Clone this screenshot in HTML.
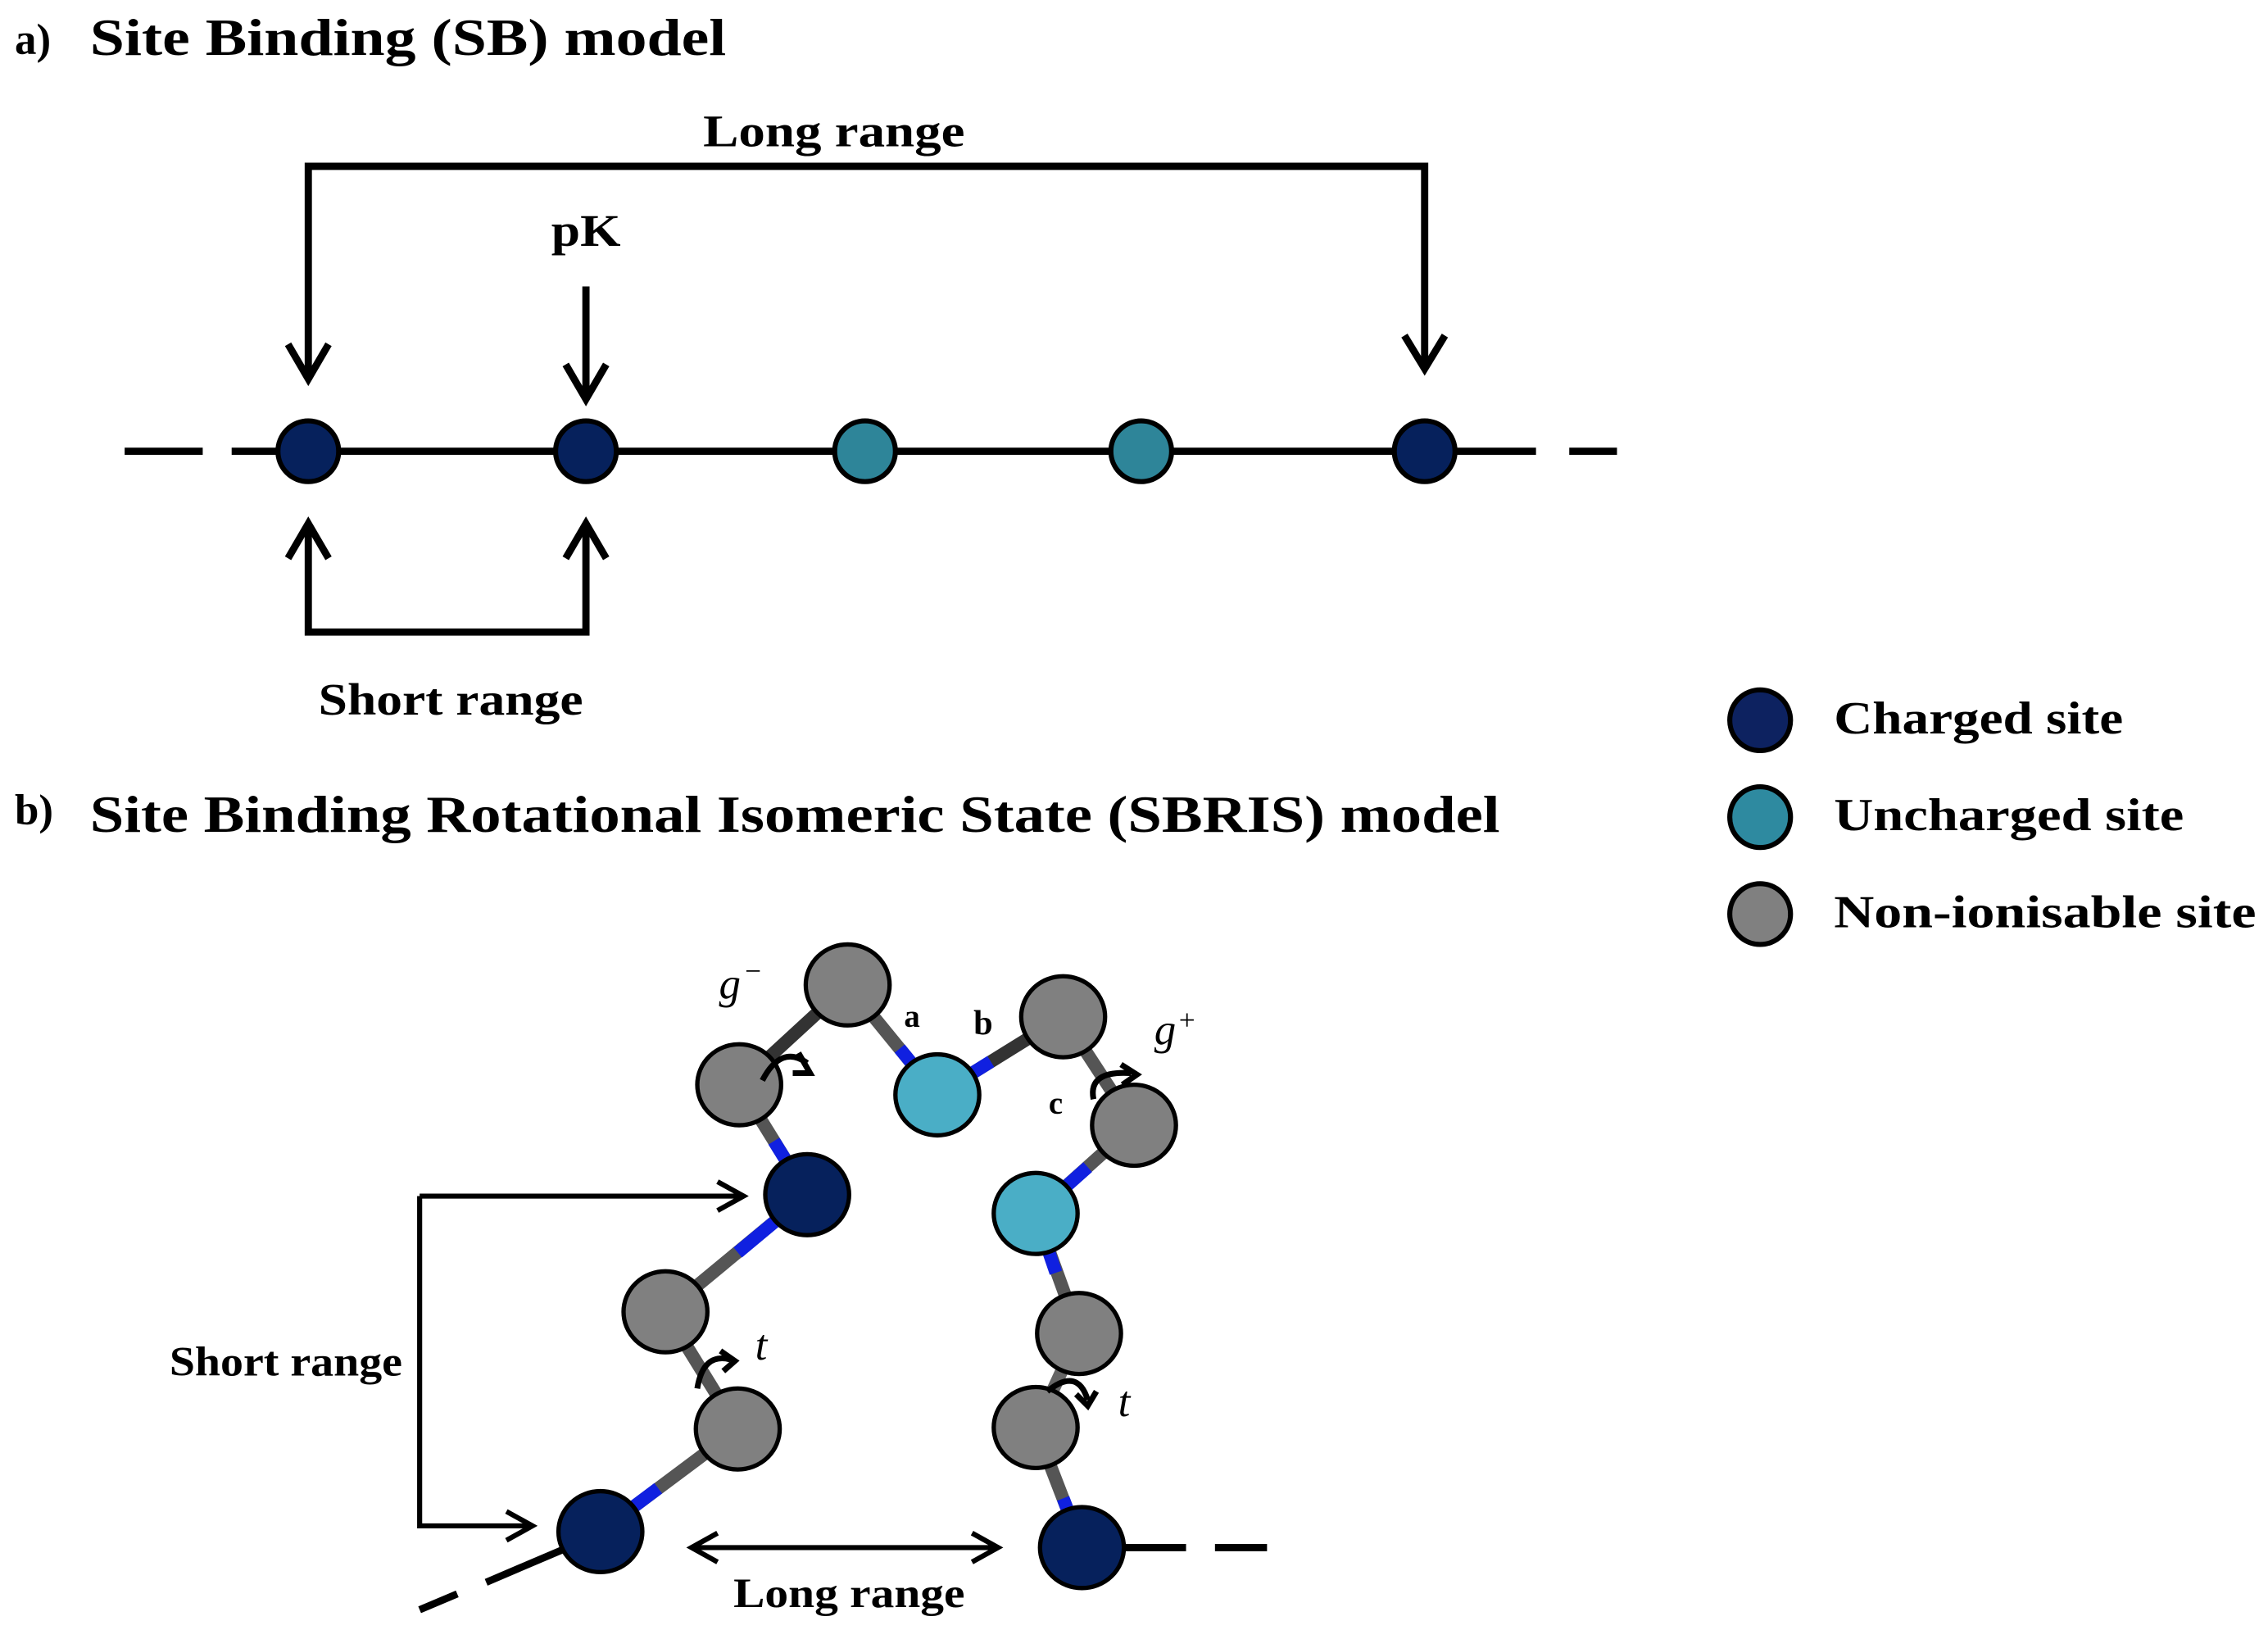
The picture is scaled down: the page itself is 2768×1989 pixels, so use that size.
<!DOCTYPE html>
<html><head><meta charset="utf-8"><style>
html,body{margin:0;padding:0;background:#fff;}
svg{display:block;}
text{font-family:"Liberation Serif",serif;fill:#000;}
</style></head><body>
<svg width="2768" height="1989" viewBox="0 0 1568 1127" xmlns="http://www.w3.org/2000/svg">
<g fill="#000">
<text x="10" y="37" font-size="30" font-weight="bold">a)</text>
<text x="62" y="38" font-size="36" font-weight="bold" textLength="440" lengthAdjust="spacingAndGlyphs">Site Binding (SB) model</text>
<text x="486" y="101" font-size="31" font-weight="bold" textLength="181" lengthAdjust="spacingAndGlyphs">Long range</text>
<text x="381" y="170" font-size="31" font-weight="bold" textLength="48" lengthAdjust="spacingAndGlyphs">pK</text>
<text x="220" y="494" font-size="31" font-weight="bold" textLength="183" lengthAdjust="spacingAndGlyphs">Short range</text>
<text x="10" y="570" font-size="30" font-weight="bold">b)</text>
<text x="62" y="575" font-size="36" font-weight="bold" textLength="975" lengthAdjust="spacingAndGlyphs">Site Binding Rotational Isomeric State (SBRIS) model</text>
<text x="1268" y="507" font-size="32" font-weight="bold" textLength="200" lengthAdjust="spacingAndGlyphs">Charged site</text>
<text x="1268" y="574" font-size="32" font-weight="bold" textLength="242" lengthAdjust="spacingAndGlyphs">Uncharged site</text>
<text x="1268" y="641" font-size="32" font-weight="bold" textLength="292" lengthAdjust="spacingAndGlyphs">Non-ionisable site</text>
<text x="117" y="951" font-size="29" font-weight="bold" textLength="161" lengthAdjust="spacingAndGlyphs">Short range</text>
<text x="507" y="1111" font-size="29" font-weight="bold" textLength="160" lengthAdjust="spacingAndGlyphs">Long range</text>
<text x="497" y="690" font-size="30" font-style="italic">g</text><text x="515" y="678" font-size="20">−</text>
<text x="625" y="710" font-size="22" font-weight="bold">a</text>
<text x="673" y="715" font-size="24" font-weight="bold">b</text>
<text x="725" y="770" font-size="22" font-weight="bold">c</text>
<text x="798" y="722" font-size="30" font-style="italic">g</text><text x="815" y="712" font-size="20">+</text>
<text x="522" y="940" font-size="30" font-style="italic">t</text>
<text x="773" y="979" font-size="30" font-style="italic">t</text>
</g>
<!-- part a -->
<g stroke="#000" stroke-width="5" fill="none">
<path d="M213 258 V115 H985 V252"/>
<path d="M199 238 L213 262 L227 238"/>
<path d="M971 232 L985 255 L999 232"/>
<path d="M405 198 V272"/>
<path d="M391 252 L405 276 L419 252"/>
<path d="M213 366 V437 H405 V366"/>
<path d="M199 386 L213 362 L227 386"/>
<path d="M391 386 L405 362 L419 386"/>
<path d="M86 312 H140 M160 312 H1062 M1085 312 H1118"/>
</g>
<g stroke="#000" stroke-width="3.5">
<circle cx="213" cy="312" r="21" fill="#06215c"/>
<circle cx="405" cy="312" r="21" fill="#06215c"/>
<circle cx="598" cy="312" r="21" fill="#2e8599"/>
<circle cx="789" cy="312" r="21" fill="#2e8599"/>
<circle cx="985" cy="312" r="21" fill="#06215c"/>
<circle cx="1217" cy="498" r="21" fill="#0d2260"/>
<circle cx="1217" cy="565" r="21" fill="#2e8aa0"/>
<circle cx="1217" cy="632" r="21" fill="#808080"/>
</g>
<!-- part b connectors -->
<g stroke="#000" stroke-width="3.5" fill="none">
<path d="M290 827 H512 M496 817 L514 827 L496 837"/>
<path d="M290 827 V1055 H366 M350 1045 L368 1055 L350 1065"/>
<path d="M480 1070 H688 M496 1060 L478 1070 L496 1080 M672 1060 L690 1070 L672 1080"/>
</g>
<g stroke="#000" stroke-width="5" fill="none">
<path d="M290 1113 L316 1102 M336 1094 L390 1071"/>
<path d="M770 1070 H820 M840 1070 H876"/>
</g>
<!-- bonds -->
<g stroke-width="9" stroke-linecap="butt">
<line x1="415" y1="1059" x2="510" y2="988" stroke="#555"/><line x1="415" y1="1059" x2="455" y2="1029" stroke="#1020e0"/>
<line x1="510" y1="988" x2="460" y2="907" stroke="#555"/>
<line x1="460" y1="907" x2="558" y2="826" stroke="#555"/><line x1="558" y1="826" x2="510" y2="866" stroke="#1020e0"/>
<line x1="558" y1="826" x2="511" y2="750" stroke="#555"/><line x1="558" y1="826" x2="535" y2="789" stroke="#1020e0"/>
<line x1="511" y1="750" x2="586" y2="681" stroke="#333"/>
<line x1="586" y1="681" x2="648" y2="757" stroke="#555"/><line x1="648" y1="757" x2="622" y2="725" stroke="#1020e0"/>
<line x1="648" y1="757" x2="735" y2="703" stroke="#333"/><line x1="648" y1="757" x2="685" y2="734" stroke="#1020e0"/>
<line x1="735" y1="703" x2="784" y2="778" stroke="#555"/>
<line x1="784" y1="778" x2="716" y2="839" stroke="#555"/><line x1="716" y1="839" x2="752" y2="807" stroke="#1020e0"/>
<line x1="716" y1="839" x2="746" y2="922" stroke="#555"/><line x1="716" y1="839" x2="730" y2="880" stroke="#1020e0"/>
<line x1="746" y1="922" x2="716" y2="987" stroke="#666"/>
<line x1="716" y1="987" x2="748" y2="1070" stroke="#555"/><line x1="748" y1="1070" x2="735" y2="1036" stroke="#1020e0"/>
</g>
<!-- nodes -->
<g stroke="#000" stroke-width="3">
<ellipse cx="415" cy="1059" rx="29" ry="28" fill="#06215c"/>
<ellipse cx="748" cy="1070" rx="29" ry="28" fill="#06215c"/>
<ellipse cx="510" cy="988" rx="29" ry="28" fill="#808080"/>
<ellipse cx="716" cy="987" rx="29" ry="28" fill="#808080"/>
<ellipse cx="460" cy="907" rx="29" ry="28" fill="#808080"/>
<ellipse cx="746" cy="922" rx="29" ry="28" fill="#808080"/>
<ellipse cx="558" cy="826" rx="29" ry="28" fill="#06215c"/>
<ellipse cx="716" cy="839" rx="29" ry="28" fill="#4aaec6"/>
<ellipse cx="511" cy="750" rx="29" ry="28" fill="#808080"/>
<ellipse cx="784" cy="778" rx="29" ry="28" fill="#808080"/>
<ellipse cx="648" cy="757" rx="29" ry="28" fill="#4aaec6"/>
<ellipse cx="586" cy="681" rx="29" ry="28" fill="#808080"/>
<ellipse cx="735" cy="703" rx="29" ry="28" fill="#808080"/>
</g>
<!-- rotation arrows -->
<g stroke="#000" stroke-width="4" fill="none">
<path d="M527 747 Q540 722 558 735"/><path d="M552 728 L560 742 L548 742"/>
<path d="M756 760 Q752 740 782 742"/><path d="M775 736 L786 743 L776 750"/>
<path d="M482 960 Q486 935 505 940"/><path d="M498 934 L508 941 L500 948"/>
<path d="M724 962 Q745 945 752 968"/><path d="M744 964 L752 972 L758 962"/>
</g>
</svg>
</body></html>
